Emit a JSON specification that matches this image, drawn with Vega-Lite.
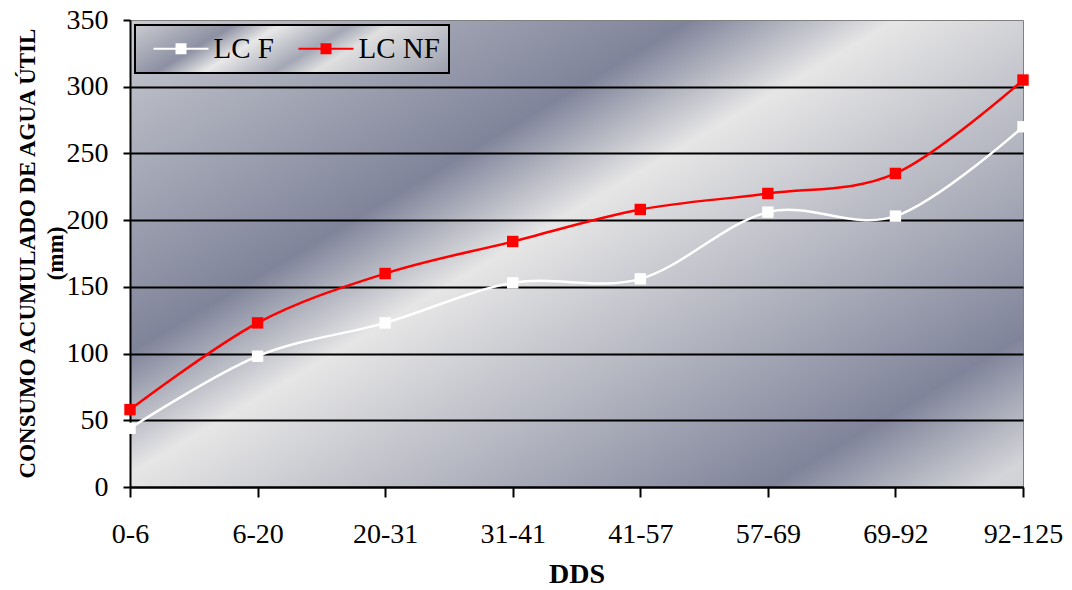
{
  "$schema": "https://vega.github.io/schema/vega-lite/v6.json",
  "width": 893,
  "height": 467,
  "autosize": "none",
  "padding": {"left": 130, "top": 20, "right": 49, "bottom": 103},
  "background": "white",
  "config": {"font": "Liberation Serif"},
  "view": {
    "fill": {
      "gradient": "linear",
      "x1": 0, "y1": 0, "x2": 1.058, "y2": 0.934,
      "stops": [
        {"offset": 0, "color": "#c8cad0"},
        {"offset": 0.333, "color": "#80849a"},
        {"offset": 0.455, "color": "#e6e6e6"},
        {"offset": 0.848, "color": "#80849a"},
        {"offset": 0.975, "color": "#d4d5d9"},
        {"offset": 1, "color": "#d0d1d5"}
      ]
    },
    "stroke": "#808080",
    "strokeWidth": 1
  },
  "data": {
    "values": [
      {"dds": "0-6", "serie": "LC F", "value": 44},
      {"dds": "6-20", "serie": "LC F", "value": 98},
      {"dds": "20-31", "serie": "LC F", "value": 123},
      {"dds": "31-41", "serie": "LC F", "value": 153},
      {"dds": "41-57", "serie": "LC F", "value": 156},
      {"dds": "57-69", "serie": "LC F", "value": 206},
      {"dds": "69-92", "serie": "LC F", "value": 203},
      {"dds": "92-125", "serie": "LC F", "value": 270},
      {"dds": "0-6", "serie": "LC NF", "value": 58},
      {"dds": "6-20", "serie": "LC NF", "value": 123},
      {"dds": "20-31", "serie": "LC NF", "value": 160},
      {"dds": "31-41", "serie": "LC NF", "value": 184},
      {"dds": "41-57", "serie": "LC NF", "value": 208},
      {"dds": "57-69", "serie": "LC NF", "value": 220},
      {"dds": "69-92", "serie": "LC NF", "value": 235},
      {"dds": "92-125", "serie": "LC NF", "value": 305}
    ]
  },
  "mark": {
    "type": "line",
    "interpolate": "cardinal",
    "tension": 0,
    "strokeWidth": 2.5,
    "point": {"shape": "square", "size": 130, "filled": true, "opacity": 1}
  },
  "encoding": {
    "x": {
      "field": "dds",
      "type": "ordinal",
      "sort": ["0-6", "6-20", "20-31", "31-41", "41-57", "57-69", "69-92", "92-125"],
      "scale": {"type": "point", "padding": 0},
      "axis": {
        "title": "DDS",
        "labelAngle": 0,
        "labelFontSize": 28,
        "labelColor": "black",
        "labelBaseline": "top",
        "labelPadding": 23,
        "tickSize": 10,
        "tickWidth": 2,
        "tickColor": "black",
        "domainColor": "black",
        "domainWidth": 2,
        "grid": false,
        "titleFontSize": 28,
        "titleFontWeight": "bold",
        "titleColor": "black",
        "titleBaseline": "alphabetic",
        "titleY": 95
      }
    },
    "y": {
      "field": "value",
      "type": "quantitative",
      "scale": {"domain": [0, 350], "nice": false},
      "axis": {
        "title": ["CONSUMO ACUMULADO DE AGUA ÚTIL", "(mm)"],
        "values": [0, 50, 100, 150, 200, 250, 300, 350],
        "labelFontSize": 28,
        "labelColor": "black",
        "labelPadding": 15,
        "tickSize": 7,
        "tickWidth": 2,
        "tickColor": "black",
        "domainColor": "black",
        "domainWidth": 2,
        "grid": true,
        "gridColor": "black",
        "gridWidth": 2,
        "gridOpacity": {"condition": {"test": "datum.value == 350", "value": 0}, "value": 1},
        "titleFontSize": 23,
        "titleFontWeight": "bold",
        "titleColor": "black",
        "titleLineHeight": 28,
        "titleX": -91,
        "titleY": 233
      }
    },
    "color": {
      "field": "serie",
      "type": "nominal",
      "scale": {"domain": ["LC F", "LC NF"], "range": ["#ffffff", "#ff0000"]},
      "legend": {
        "title": null,
        "orient": "top-left",
        "offset": 5,
        "direction": "horizontal",
        "symbolType": "M-2.75,0H2.75M-0.45,-0.45H0.45V0.45H-0.45Z",
        "symbolSize": 400,
        "symbolStrokeWidth": 2,
        "labelFontSize": 29,
        "labelColor": "black",
        "padding": 9,
        "labelOffset": 18,
        "symbolOffset": 22.5,
        "columnPadding": 15,
        "strokeColor": "black",
        "encode": {
          "symbols": {
            "update": {
              "fill": {"scale": "color", "field": "value"},
              "stroke": {"scale": "color", "field": "value"},
              "strokeWidth": {"value": 2},
              "opacity": {"value": 1}
            }
          },
          "legend": {
            "update": {
              "fill": {"value": {
                "gradient": "linear", "x1": 0, "y1": 0, "x2": 1.177, "y2": 0.295,
                "stops": [
                  {"offset": 0, "color": "#c9cad0"},
                  {"offset": 0.25, "color": "#8d90a2"},
                  {"offset": 0.37, "color": "#e8e8e8"},
                  {"offset": 0.55, "color": "#a4a7b5"},
                  {"offset": 0.65, "color": "#e0e0e0"},
                  {"offset": 1, "color": "#9a9dac"}
                ]
              }},
              "stroke": {"value": "black"},
              "strokeWidth": {"value": 2}
            }
          }
        }
      }
    }
  }
}
